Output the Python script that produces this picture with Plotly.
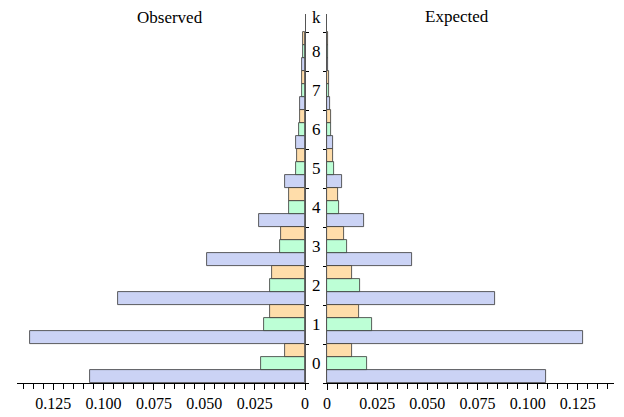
import plotly.graph_objects as go

# ---- data ----
k_values = [0, 1, 2, 3, 4, 5, 6, 7, 8]
k_labels = ["0", "1", "2", "3", "4", "5", "6", "7", "8"]

observed_blue   = [0.1070, 0.1363, 0.0927, 0.0485, 0.0227, 0.0099, 0.0045, 0.0023, 0.0013]
observed_green  = [0.0218, 0.0203, 0.0172, 0.0124, 0.0078, 0.0046, 0.0028, 0.0016, 0.0008]
observed_orange = [0.0099, 0.0172, 0.0165, 0.0118, 0.0078, 0.0041, 0.0025, 0.0015, 0.0008]

expected_blue   = [0.1093, 0.1275, 0.0839, 0.0422, 0.0182, 0.0076, 0.0030, 0.0016, 0.0005]
expected_green  = [0.0199, 0.0223, 0.0162, 0.0099, 0.0058, 0.0033, 0.0020, 0.0008, 0.0005]
expected_orange = [0.0124, 0.0157, 0.0126, 0.0086, 0.0053, 0.0030, 0.0020, 0.0008, 0.0005]

x_tickvals = [0, 0.025, 0.05, 0.075, 0.1, 0.125]
x_ticktext = ["0", "0.025", "0.050", "0.075", "0.100", "0.125"]

colors = ["#CBD3F5", "#BDFFD6", "#FFDDAA"]
FONT = "Liberation Serif, Times New Roman, serif"
W, H = 624, 417
OFF = 8  # page body margin offset
# target screen positions (from reference)
X_L0, X_L1, X_R0, X_R1 = 17, 305, 327, 614
Y_BOT, Y_TOPBARS, Y_TOPAXIS = 383, 32, 14

L = X_L0 - OFF
R = W - (X_R1 - OFF)
T = Y_TOPAXIS - OFF
B = H - (Y_BOT - OFF)
PW, PH = W - L - R, H - T - B


def px_x(x):
    return (x - OFF - L) / PW


def px_y(y):
    return (H - B - (y - OFF)) / PH


fig = go.Figure()
for vals, col in zip([observed_blue, observed_green, observed_orange], colors):
    fig.add_trace(go.Bar(x=vals, y=k_values, orientation="h", xaxis="x", yaxis="y",
                         marker=dict(color=col, line=dict(color="#333333", width=0.8)),
                         showlegend=False))
for vals, col in zip([expected_blue, expected_green, expected_orange], colors):
    fig.add_trace(go.Bar(x=vals, y=k_values, orientation="h", xaxis="x2", yaxis="y2",
                         marker=dict(color=col, line=dict(color="#333333", width=0.8)),
                         showlegend=False))

px_per_k = (Y_BOT - Y_TOPBARS) / len(k_values)
yrange = [-0.5, len(k_values) - 0.5 + (Y_TOPBARS - Y_TOPAXIS) / px_per_k]
boundaries = [v - 0.5 for v in k_values] + [k_values[-1] + 0.5]

xcommon = dict(tickmode="array", tickvals=x_tickvals, ticktext=x_ticktext,
               ticks="outside", ticklen=6, tickcolor="black", tickwidth=1,
               showline=True, linecolor="black", linewidth=1,
               showgrid=False, zeroline=False, automargin=False,
               tickfont=dict(family=FONT, size=16, color="black"),
               minor=dict(dtick=0.005, tick0=0, ticks="outside", ticklen=5,
                          tickcolor="black", tickwidth=1, showgrid=False))
ycommon = dict(range=yrange, domain=[0, 1], showline=True, linecolor="#555555",
               linewidth=1.2, showgrid=False, zeroline=False, automargin=False,
               tickmode="array", tickvals=boundaries, ticks="outside", ticklen=3,
               tickcolor="black", showticklabels=False)

fig.update_layout(
    width=W, height=H, margin=dict(l=L, r=R, t=T, b=B, autoexpand=False),
    paper_bgcolor="white", plot_bgcolor="white",
    barmode="group", bargap=0, bargroupgap=0,
    xaxis=dict(domain=[px_x(X_L0), px_x(X_L1)], range=[0.143, 0], anchor="y", **xcommon),
    xaxis2=dict(domain=[px_x(X_R0), px_x(X_R1)], range=[0, 0.143], anchor="y2", **xcommon),
    yaxis=dict(anchor="x", side="right", **ycommon),
    yaxis2=dict(anchor="x2", side="left", **ycommon),
)

tfont = dict(family=FONT, size=17, color="black")
annots = [
    dict(text="Observed", x=px_x(170), y=px_y(18), xref="paper", yref="paper",
         xanchor="center", yanchor="middle", showarrow=False, font=tfont),
    dict(text="Expected", x=px_x(457), y=px_y(16), xref="paper", yref="paper",
         xanchor="center", yanchor="middle", showarrow=False, font=tfont),
    dict(text="k", x=px_x(316), y=px_y(18), xref="paper", yref="paper",
         xanchor="center", yanchor="middle", showarrow=False, font=tfont),
]
for kv, lab in zip(k_values, k_labels):
    annots.append(dict(text=lab, x=px_x(316), y=kv, xref="paper", yref="y",
                       xanchor="center", yanchor="middle", showarrow=False, font=tfont))
fig.update_layout(annotations=annots)

fig.write_html("out.html")
